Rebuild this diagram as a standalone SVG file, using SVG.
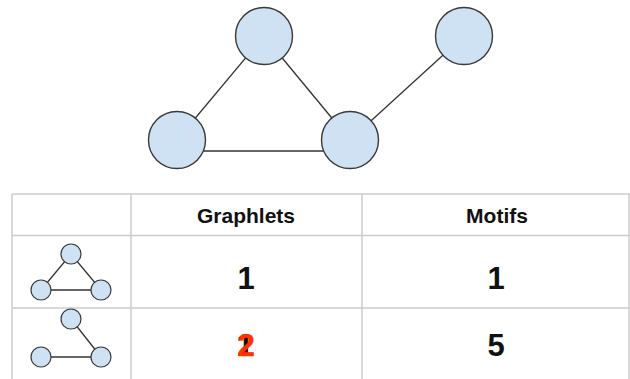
<svg xmlns="http://www.w3.org/2000/svg" width="630" height="379" viewBox="0 0 630 379">
<style>
.n{fill:#cfe2f3;stroke:#3a3a3a;stroke-width:1.4}
.sn{fill:#cfe2f3;stroke:#3a3a3a;stroke-width:1.2}
.e{stroke:#333;stroke-width:1.3;fill:none}
.g{stroke:#cccccc;stroke-width:1.5;fill:none}
.h{font-family:"Liberation Sans",Arial,sans-serif;font-weight:bold;font-size:21px;fill:#111;text-anchor:middle}
.v{font-family:"Liberation Sans",Arial,sans-serif;font-weight:bold;font-size:31px;fill:#111;text-anchor:middle}
.r{fill:#ff3300}
</style>
<rect width="630" height="379" fill="#fff"/>
<g id="connectors">
<line class="e" x1="264" y1="36" x2="177" y2="140"/>
<line class="e" x1="264" y1="36" x2="350" y2="140"/>
<line class="e" x1="198" y1="151" x2="328" y2="151"/>
<line class="e" x1="350" y1="140" x2="464" y2="36"/>
</g>
<g id="node-top"><circle class="n" cx="264" cy="36" r="28.5"/></g>
<g id="node-topright"><circle class="n" cx="464" cy="36" r="28.5"/></g>
<g id="node-left"><circle class="n" cx="177" cy="140" r="28.5"/></g>
<g id="node-right"><circle class="n" cx="350" cy="140" r="28.5"/></g>
<g id="table">
<line class="g" x1="12" y1="194" x2="630" y2="194"/>
<line class="g" x1="12" y1="235.5" x2="630" y2="235.5"/>
<line class="g" x1="12" y1="308" x2="630" y2="308"/>
<line class="g" x1="12" y1="194" x2="12" y2="379"/>
<line class="g" x1="131" y1="194" x2="131" y2="379"/>
<line class="g" x1="362" y1="194" x2="362" y2="379"/>
<line class="g" x1="629" y1="194" x2="629" y2="379"/>
<text class="h" x="246" y="223">Graphlets</text>
<text class="h" x="497" y="223">Motifs</text>
<text class="v" x="246" y="289">1</text>
<text class="v" x="496" y="289">1</text>
<text class="v" x="245" y="356">1</text>
<text class="v r" x="246" y="356" stroke="#ff3300" stroke-width="0.6">2</text>
<text class="v" x="496" y="356">5</text>
</g>
<g id="mini-triangle">
<line class="e" x1="71" y1="254" x2="41" y2="290"/>
<line class="e" x1="71" y1="254" x2="101" y2="290"/>
<line class="e" x1="41" y1="290" x2="101" y2="290"/>
<circle class="sn" cx="71" cy="254" r="10"/>
<circle class="sn" cx="41" cy="290" r="10"/>
<circle class="sn" cx="101" cy="290" r="10"/>
</g>
<g id="mini-path">
<line class="e" x1="71" y1="319" x2="101" y2="357"/>
<line class="e" x1="41" y1="357" x2="101" y2="357"/>
<circle class="sn" cx="71" cy="319" r="10"/>
<circle class="sn" cx="41" cy="357" r="10"/>
<circle class="sn" cx="101" cy="357" r="10"/>
</g>
</svg>
